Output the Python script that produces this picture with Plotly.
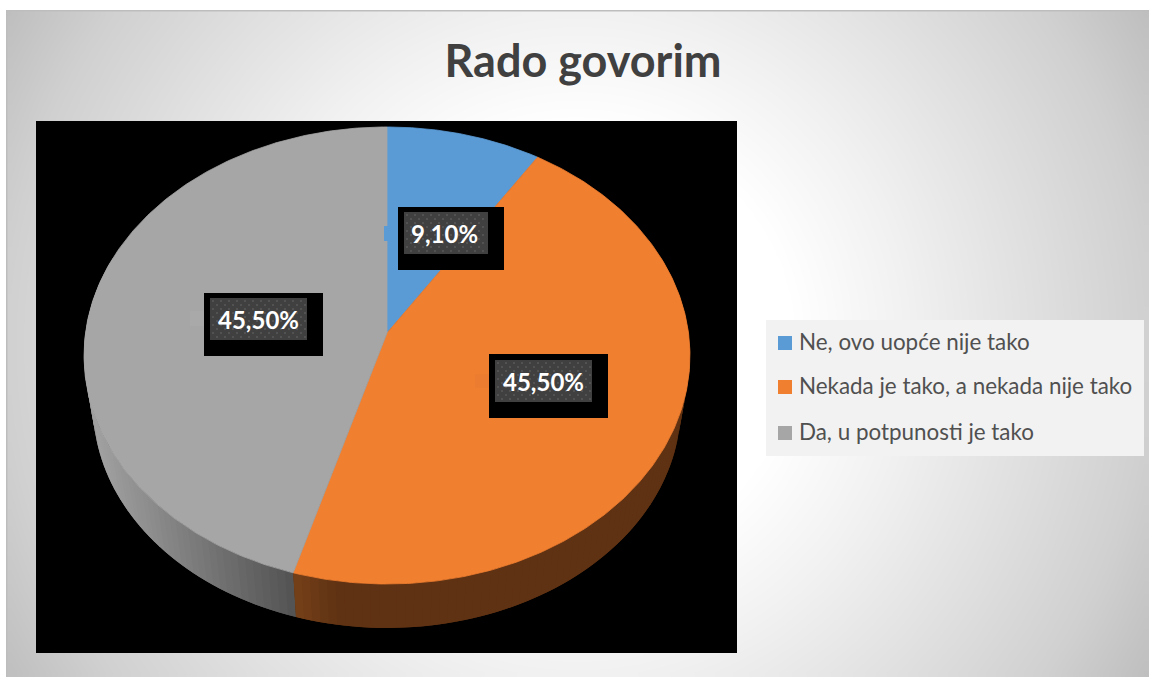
import numpy as np
import plotly.graph_objects as go

# ---- data ----
CATEGORIES = ["Ne, ovo uopće nije tako", "Nekada je tako, a nekada nije tako", "Da, u potpunosti je tako"]
VALUES = [9.1, 45.5, 45.5]
COLORS = ["#5b9bd5", "#f17f30", "#a6a6a6"]
TITLE = "Rado govorim"

# ---- pie projection (canvas pixels) ----
W, H = 1149, 677
CX, CY = 387.0, 333.0
A, B, P = 301.5, 226.3, 0.0984
DEPTH, SHRINK = 51.5, 0.97


def project(theta, lower=False):
    u, v = np.sin(theta), np.cos(theta)
    d = 1 + P * v
    s = SHRINK if lower else 1.0
    off = DEPTH if lower else 0.0
    return CX + s * A * u / d, CY + off - s * B * v / d


def rect(x0, x1, y0, y1, color):
    return go.Scatter(x=[x0, x1, x1, x0, x0], y=[y0, y0, y1, y1, y0], mode="lines",
                      fill="toself", fillcolor=color, line=dict(width=0),
                      hoverinfo="skip", showlegend=False)


def lerp_color(c0, c1, t):
    t = min(1.0, max(0.0, t))
    c = [round(a + (b - a) * t) for a, b in zip(c0, c1)]
    return f"rgb({c[0]},{c[1]},{c[2]})"


fig = go.Figure()

# background radial gradient
nx, ny = 116, 68
dx, dy = (W - 6) / nx, (H - 10) / ny
xs = 6 + dx * (np.arange(nx) + 0.5)
ys = 10 + dy * (np.arange(ny) + 0.5)
gx, gy = np.meshgrid(xs, ys)
dist = np.hypot(gx - 577, gy - 344)
shade = np.interp(dist, [0, 215, 330, 572, 662], [255, 255, 241, 208, 190])
fig.add_trace(go.Heatmap(x=xs, y=ys, z=shade, zmin=0, zmax=255, zsmooth="best",
                         colorscale=[[0, "#000000"], [1, "#ffffff"]], showscale=False, hoverinfo="skip"))
fig.add_trace(rect(6, W, 10, 11.5, "#bdbdbd"))
fig.add_trace(rect(6, 7.5, 10, H, "#bdbdbd"))

# plot area
fig.add_trace(rect(36, 737, 121, 653, "#000000"))

# slices
total = sum(VALUES)
edges = 2 * np.pi * np.cumsum([0] + VALUES) / total


def side_color(i, x):
    if i == 2:
        return lerp_color((0x4f, 0x4f, 0x4f), (0xa0, 0xa0, 0xa0), (294 - x) / 200)
    return lerp_color((0x78, 0x42, 0x19), (0x5f, 0x32, 0x13), (x - 296) / 50)


# extruded side, front half only: each quad runs under the next one so no seams show
for i in (2, 1):
    a0 = max(edges[i], np.radians(70))
    a1 = min(edges[i + 1], np.radians(290))
    n = max(2, int(np.degrees(a1 - a0) / 1.5))
    t = np.linspace(a0, a1, n + 1)
    step = t[1] - t[0]
    order = range(n - 1, -1, -1) if i == 1 else range(n)
    for k in order:
        s0 = t[k] - (step if (i == 2 and k > 0) else 0)
        s1 = t[k + 1] + (step if (i == 1 and k < n - 1) else 0)
        seg = np.linspace(s0, s1, 4)
        x_t, y_t = project(seg)
        x_b, y_b = project(seg[::-1], lower=True)
        col = side_color(i, float(project(t[k] + step / 2)[0]))
        fig.add_trace(go.Scatter(x=np.r_[x_t, x_b, x_t[0]], y=np.r_[y_t, y_b, y_t[0]], mode="lines",
                                 fill="toself", fillcolor=col, line=dict(width=0),
                                 hoverinfo="skip", showlegend=False))

# top face
for i, (name, val, col) in enumerate(zip(CATEGORIES, VALUES, COLORS)):
    t = np.linspace(edges[i], edges[i + 1], 240)
    x, y = project(t)
    fig.add_trace(go.Scatter(x=np.r_[CX, x, CX], y=np.r_[CY, y, CY], mode="lines", fill="toself",
                             fillcolor=col, line=dict(width=0.8, color=col), name=name,
                             hovertemplate=f"{name}: {val}%<extra></extra>", showlegend=False))

# faint keys next to data labels
fig.add_trace(rect(384, 398, 226, 241, "#5b9bd5"))
fig.add_trace(rect(475, 489, 374, 388, "#ec7c2f"))
fig.add_trace(rect(190, 204, 311, 326, "#a9a9a9"))

# data labels
LABEL_BOXES = [(398, 504, 207, 270, 404, 488, 212, 254),
               (489, 608, 354, 418, 495, 592, 360, 402),
               (204, 323, 293, 356, 210, 307, 298, 340)]
dot_x, dot_y = [], []
for (bx0, bx1, by0, by1, ix0, ix1, iy0, iy1) in LABEL_BOXES:
    fig.add_trace(rect(bx0, bx1, by0, by1, "#000000"))
    fig.add_trace(rect(ix0, ix1, iy0, iy1, "#404040"))
    for r, yy in enumerate(np.arange(iy0 + 3, iy1, 4.0)):
        for xx in np.arange(ix0 + 3 + (r % 2) * 4, ix1 - 1, 8.0):
            dot_x.append(xx)
            dot_y.append(yy)
fig.add_trace(go.Scatter(x=dot_x, y=dot_y, mode="markers", marker=dict(size=2, color="#585858", line=dict(width=0)),
                         hoverinfo="skip", showlegend=False))

annotations = []
for val, (bx0, bx1, by0, by1, ix0, ix1, iy0, iy1) in zip(VALUES, LABEL_BOXES):
    annotations.append(dict(x=(ix0 + ix1) / 2 - (1.5 if val < 10 else 0), y=(iy0 + iy1) / 2, xref="x", yref="y", showarrow=False,
                            text=f"{val:.2f}".replace(".", ",") + "%",
                            font=dict(family="Lato", size=24, color="#ffffff", weight="bold")))

# legend
fig.add_trace(rect(766, 1144, 320, 456, "#f2f2f2"))
for name, col, yc in zip(CATEGORIES, COLORS, [343, 387, 433]):
    fig.add_trace(rect(778, 792, yc - 7, yc + 7, col))
    annotations.append(dict(x=796.5, y=yc - 2, xref="x", yref="y", xanchor="left", showarrow=False, text=name,
                            font=dict(family="Lato", size=22.4, color="#505050")))

fig.update_layout(
    width=W, height=H, margin=dict(l=0, r=0, t=0, b=0), autosize=False,
    paper_bgcolor="#ffffff", plot_bgcolor="#ffffff", showlegend=False,
    title=dict(text=TITLE, x=583 / W, xanchor="center", y=1 - 61 / H, yanchor="middle",
               font=dict(family="Lato", size=45, color="#404040", weight="bold")),
    xaxis=dict(range=[0, W], visible=False, fixedrange=True, domain=[0, 1]),
    yaxis=dict(range=[H, 0], visible=False, fixedrange=True, domain=[0, 1]),
    annotations=annotations,
)

fig.write_html("out.html", post_script="document.body.style.margin='0';document.body.style.overflow='hidden';",
               config=dict(displayModeBar=False))
